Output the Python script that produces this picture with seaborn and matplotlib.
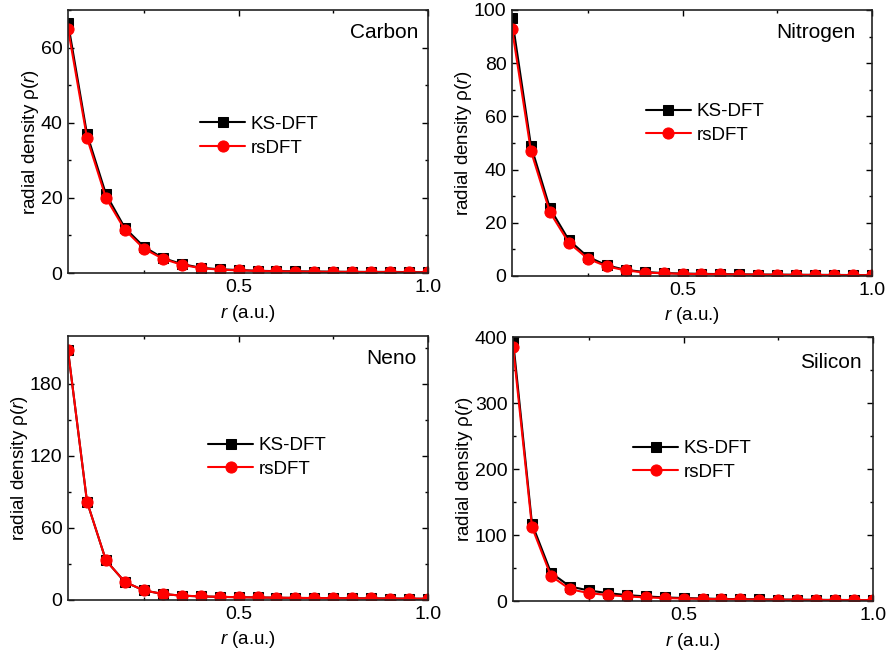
import numpy as np
import pandas as pd
import matplotlib
matplotlib.use("Agg")
import matplotlib.pyplot as plt
from matplotlib.ticker import MultipleLocator
import seaborn as sns

# radial grid
r = [0.05, 0.10, 0.15, 0.20, 0.25, 0.30, 0.35, 0.40, 0.45, 0.50,
     0.55, 0.60, 0.65, 0.70, 0.75, 0.80, 0.85, 0.90, 0.95, 1.00]

# Carbon
carbon_ks = [66.5, 37.0, 21.0, 12.0, 7.0, 4.0, 2.4, 1.4, 1.0, 0.8,
             0.6, 0.5, 0.45, 0.4, 0.35, 0.3, 0.3, 0.3, 0.25, 0.2]
carbon_rs = [65.0, 36.0, 20.0, 11.5, 6.5, 3.8, 2.2, 1.3, 0.9, 0.7,
             0.55, 0.45, 0.4, 0.35, 0.3, 0.3, 0.25, 0.25, 0.2, 0.2]

# Nitrogen
nitrogen_ks = [97.0, 49.0, 25.5, 13.5, 7.2, 4.0, 2.3, 1.5, 1.1, 0.9,
               0.8, 0.7, 0.6, 0.55, 0.5, 0.45, 0.4, 0.4, 0.35, 0.3]
nitrogen_rs = [93.0, 47.0, 24.0, 12.5, 6.5, 3.6, 2.1, 1.3, 1.0, 0.8,
               0.7, 0.6, 0.55, 0.5, 0.45, 0.4, 0.4, 0.35, 0.3, 0.3]

# Neon
neno_ks = [208.0, 82.0, 33.0, 15.0, 8.0, 5.0, 3.6, 3.0, 2.6, 2.3,
           2.1, 1.9, 1.7, 1.6, 1.5, 1.4, 1.3, 1.2, 1.1, 1.0]
neno_rs = [208.0, 82.0, 33.0, 15.0, 8.0, 5.0, 3.6, 3.0, 2.6, 2.3,
           2.1, 1.9, 1.7, 1.6, 1.5, 1.4, 1.3, 1.2, 1.1, 1.0]

# Silicon
silicon_ks = [395.0, 117.0, 43.0, 22.0, 16.0, 12.0, 9.0, 7.0, 5.5, 4.5,
              3.8, 3.2, 2.8, 2.5, 2.2, 2.0, 1.8, 1.6, 1.5, 1.4]
silicon_rs = [385.0, 112.0, 38.0, 18.0, 12.0, 9.0, 7.0, 5.5, 4.5, 3.8,
              3.2, 2.8, 2.5, 2.2, 2.0, 1.8, 1.6, 1.5, 1.4, 1.3]

elements = ["Carbon", "Nitrogen", "Neno", "Silicon"]
ks_series = [carbon_ks, nitrogen_ks, neno_ks, silicon_ks]
rs_series = [carbon_rs, nitrogen_rs, neno_rs, silicon_rs]

sns.set_style("ticks")
plt.rcParams["font.family"] = ["Liberation Sans", "DejaVu Sans"]
plt.rcParams["mathtext.fontset"] = "custom"
plt.rcParams["mathtext.rm"] = "Liberation Sans"
plt.rcParams["mathtext.it"] = "Liberation Sans:italic"
plt.rcParams["text.color"] = "black"
plt.rcParams["axes.labelcolor"] = "black"
plt.rcParams["xtick.color"] = "black"
plt.rcParams["ytick.color"] = "black"

fig = plt.figure(figsize=(8.87, 6.56), dpi=100)

# axes boxes (left, bottom, width, height) in figure fraction
boxes = [
    [0.0767, 0.5838, 0.4059, 0.4009],
    [0.5772, 0.5793, 0.4059, 0.4055],
    [0.0767, 0.0854, 0.4059, 0.4024],
    [0.5784, 0.0838, 0.4059, 0.4024],
]
ylims = [70, 100, 220, 400]
ymajor = [20, 20, 60, 100]
legend_pos = [(0.346, 0.52), (0.351, 0.573), (0.368, 0.54), (0.3125, 0.532)]
label_pos = [(0.972, 0.913), (0.955, 0.914), (0.969, 0.913), (0.967, 0.905)]

for i, name in enumerate(elements):
    ax = fig.add_axes(boxes[i])
    df = pd.DataFrame({"r": r, "ks": ks_series[i], "rs": rs_series[i]})

    sns.lineplot(data=df, x="r", y="ks", ax=ax, color="black", marker="s",
                 markersize=7, markeredgecolor="black", linewidth=1.5,
                 label="KS-DFT")
    sns.lineplot(data=df, x="r", y="rs", ax=ax, color="red", marker="o",
                 markersize=8, markeredgecolor="red", linewidth=1.5,
                 label="rsDFT")

    ax.set_xlim(0.05, 1.0)
    ax.set_ylim(0, ylims[i])
    ax.xaxis.set_major_locator(MultipleLocator(0.5))
    ax.xaxis.set_minor_locator(MultipleLocator(0.25))
    ax.yaxis.set_major_locator(MultipleLocator(ymajor[i]))
    ax.yaxis.set_minor_locator(MultipleLocator(ymajor[i] / 2))
    ax.tick_params(which="both", direction="in", top=True, right=True,
                   labeltop=False, labelright=False, labelsize=14, width=1,
                   pad=4)
    ax.tick_params(which="major", length=4)
    ax.tick_params(which="minor", length=2.5)
    for sp in ax.spines.values():
        sp.set_linewidth(1.2)
        sp.set_color("#222222")

    ax.set_xlabel(r"$\mathit{r}$ (a.u.)", fontsize=13.5, labelpad=5)
    ax.set_ylabel("radial density ρ(" + r"$\mathit{r}$" + ")", fontsize=13.5,
                  labelpad=0)

    ax.text(label_pos[i][0], label_pos[i][1], name, transform=ax.transAxes,
            ha="right", va="center", fontsize=15)

    ax.legend(loc="center left", bbox_to_anchor=legend_pos[i], frameon=False,
              fontsize=13.5, handlelength=2.4, numpoints=1, borderaxespad=0,
              handletextpad=0.3, labelspacing=0.35)

fig.savefig("out.png", dpi=100)
